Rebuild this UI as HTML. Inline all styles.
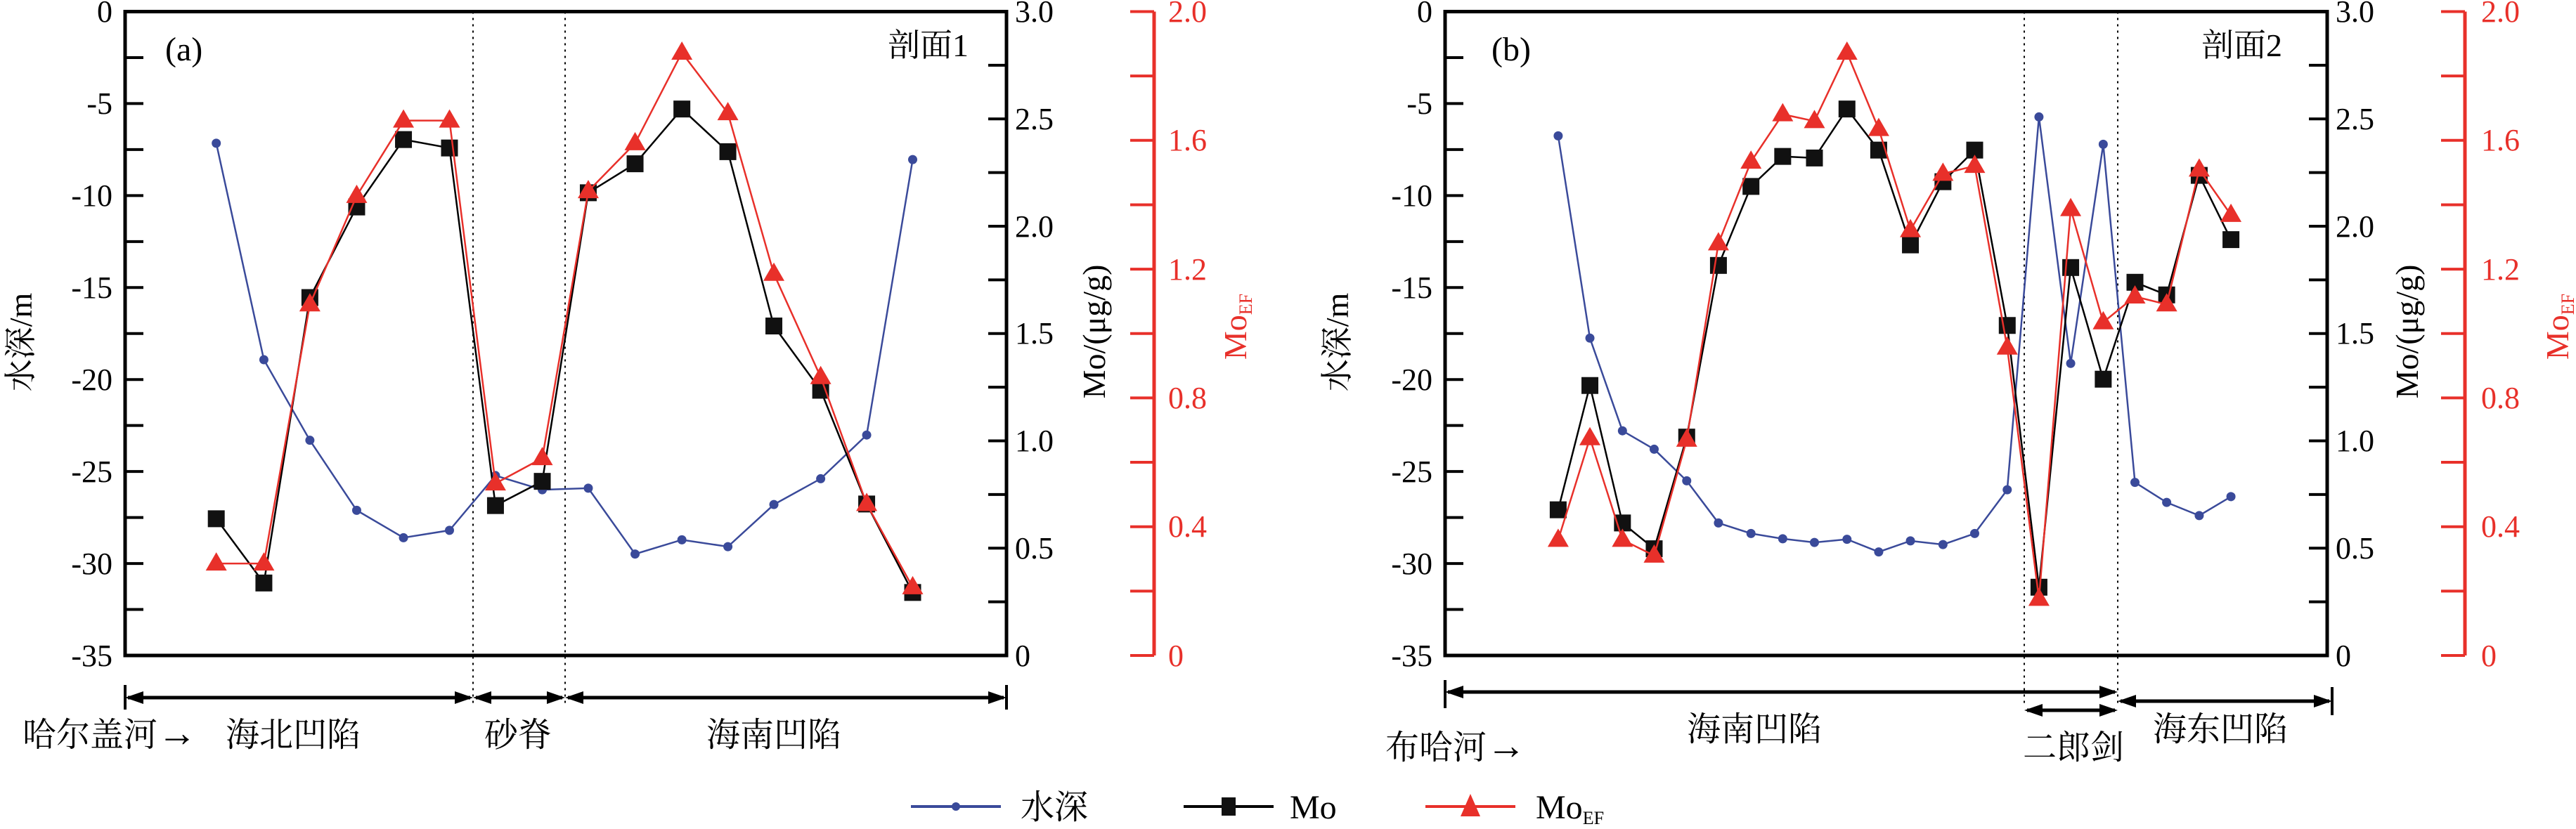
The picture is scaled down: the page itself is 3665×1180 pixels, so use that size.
<!DOCTYPE html>
<html><head><meta charset="utf-8"><style>
html,body{margin:0;padding:0;background:#fff;}
svg, svg text, svg tspan{font-family:"Liberation Serif","Times New Roman","Noto Serif CJK SC",serif !important;}
</style></head><body>
<svg id="s" width="3665" height="1175" viewBox="0 0 3665 1175" xmlns="http://www.w3.org/2000/svg" font-family="Liberation Serif, Noto Serif CJK SC, serif">
<g id="g"></g>
<!-- Panel a texts -->
<g font-size="44" fill="#000" text-anchor="end">
<text x="160" y="31">0</text><text x="160" y="162">-5</text><text x="160" y="293">-10</text><text x="160" y="424">-15</text><text x="160" y="555">-20</text><text x="160" y="686">-25</text><text x="160" y="817">-30</text><text x="160" y="948">-35</text>
</g>
<g font-size="44" fill="#000">
<text x="1444" y="31">3.0</text><text x="1444" y="184">2.5</text><text x="1444" y="337">2.0</text><text x="1444" y="489">1.5</text><text x="1444" y="642">1.0</text><text x="1444" y="795">0.5</text><text x="1444" y="948">0</text>
</g>
<g font-size="44" fill="#e8302a">
<text x="1662" y="31">2.0</text><text x="1662" y="214">1.6</text><text x="1662" y="398">1.2</text><text x="1662" y="581">0.8</text><text x="1662" y="764">0.4</text><text x="1662" y="948">0</text>
</g>
<text font-size="46" transform="translate(45,487) rotate(-90)" text-anchor="middle">水深/m</text>
<text font-size="46" transform="translate(1572,472) rotate(-90)" text-anchor="middle">Mo/(μg/g)</text>
<text font-size="46" fill="#e8302a" transform="translate(1773,465) rotate(-90)" text-anchor="middle">Mo<tspan font-size="26" dy="8">EF</tspan></text>
<text font-size="48" x="235" y="86">(a)</text>
<text font-size="46" x="1263" y="80">剖面1</text>
<g font-size="48">
<text x="32" y="1062">哈尔盖河<tspan font-size="56">→</tspan></text>
<text x="321" y="1062">海北凹陷</text>
<text x="689" y="1062">砂脊</text>
<text x="1005" y="1062">海南凹陷</text>
</g>
<!-- Panel b texts -->
<g font-size="44" fill="#000" text-anchor="end">
<text x="2038" y="31">0</text><text x="2038" y="162">-5</text><text x="2038" y="293">-10</text><text x="2038" y="424">-15</text><text x="2038" y="555">-20</text><text x="2038" y="686">-25</text><text x="2038" y="817">-30</text><text x="2038" y="948">-35</text>
</g>
<g font-size="44" fill="#000">
<text x="3323" y="31">3.0</text><text x="3323" y="184">2.5</text><text x="3323" y="337">2.0</text><text x="3323" y="489">1.5</text><text x="3323" y="642">1.0</text><text x="3323" y="795">0.5</text><text x="3323" y="948">0</text>
</g>
<g font-size="44" fill="#e8302a">
<text x="3530" y="31">2.0</text><text x="3530" y="214">1.6</text><text x="3530" y="398">1.2</text><text x="3530" y="581">0.8</text><text x="3530" y="764">0.4</text><text x="3530" y="948">0</text>
</g>
<text font-size="46" transform="translate(1918,487) rotate(-90)" text-anchor="middle">水深/m</text>
<text font-size="46" transform="translate(3440,472) rotate(-90)" text-anchor="middle">Mo/(μg/g)</text>
<text font-size="46" fill="#e8302a" transform="translate(3654,465) rotate(-90)" text-anchor="middle">Mo<tspan font-size="26" dy="8">EF</tspan></text>
<text font-size="48" x="2122" y="86">(b)</text>
<text font-size="46" x="3132" y="80">剖面2</text>
<g font-size="48">
<text x="2400" y="1054">海南凹陷</text>
<text x="1971" y="1080">布哈河<tspan font-size="56">→</tspan></text>
<text x="2878" y="1080">二郎剑</text>
<text x="3063" y="1054">海东凹陷</text>
</g>
<!-- legend -->
<line x1="1296" y1="1148" x2="1424" y2="1148" stroke="#3a4a9a" stroke-width="4"/>
<circle cx="1360" cy="1148" r="6" fill="#3a4a9a"/>
<text font-size="48" x="1452" y="1165">水深</text>
<line x1="1684" y1="1148" x2="1812" y2="1148" stroke="#000" stroke-width="4"/>
<rect x="1738" y="1135" width="20" height="26" fill="#111"/>
<text font-size="48" x="1835" y="1165">Mo</text>
<line x1="2028" y1="1148" x2="2156" y2="1148" stroke="#e8302a" stroke-width="4"/>
<polygon points="2092,1130 2078,1162 2106,1162" fill="#e8302a"/>
<text font-size="48" x="2185" y="1165">Mo<tspan font-size="26" dy="8">EF</tspan></text>
</svg>
<script>
var NS="http://www.w3.org/2000/svg",G=document.getElementById("g");
function el(t,a){var e=document.createElementNS(NS,t);for(var k in a)e.setAttribute(k,a[k]);G.appendChild(e);return e;}
var T=16.5,B=933;
function panel(L,R,RA,sx,ox,xs,blue,black,red,dots,arrows,bars){
  el("rect",{x:L,y:T,width:R-L,height:B-T,fill:"none",stroke:"#000","stroke-width":5});
  for(var i=1;i<14;i++){var y=T+(B-T)*i/14;el("line",{x1:L,y1:y,x2:L+26,y2:y,stroke:"#000","stroke-width":4});}
  for(var i=1;i<12;i++){var y=T+(B-T)*i/12;el("line",{x1:R-26,y1:y,x2:R,y2:y,stroke:"#000","stroke-width":4});}
  el("line",{x1:RA,y1:T,x2:RA,y2:B,stroke:"#e8302a","stroke-width":5});
  for(var i=0;i<=10;i++){var y=T+(B-T)*i/10;el("line",{x1:RA-34,y1:y,x2:RA,y2:y,stroke:"#e8302a","stroke-width":4});}
  dots.forEach(function(x){el("line",{x1:x,y1:T,x2:x,y2:1005,stroke:"#000","stroke-width":2,"stroke-dasharray":"3,6"});});
  bars.forEach(function(b){el("line",{x1:b[0],y1:b[1],x2:b[0],y2:b[2],stroke:"#000","stroke-width":4});});
  arrows.forEach(function(a){var x1=a[0],x2=a[1],y=a[2];
    el("line",{x1:x1+4,y1:y,x2:x2-4,y2:y,stroke:"#000","stroke-width":5});
    el("polygon",{points:x1+","+y+" "+(x1+26)+","+(y-9)+" "+(x1+26)+","+(y+9),fill:"#000"});
    el("polygon",{points:x2+","+y+" "+(x2-26)+","+(y-9)+" "+(x2-26)+","+(y+9),fill:"#000"});});
  function X(d){return ox+d/sx;} function Y(d){return d/1.334;}
  var pb=xs.map(function(d,i){return X(d)+","+Y(blue[i]);}).join(" ");
  var pk=xs.map(function(d,i){return X(d)+","+Y(black[i]);}).join(" ");
  var pr=xs.map(function(d,i){return X(d)+","+Y(red[i]);}).join(" ");
  el("polyline",{points:pb,fill:"none",stroke:"#3a4a9a","stroke-width":2.5});
  xs.forEach(function(d,i){el("circle",{cx:X(d),cy:Y(blue[i]),r:6.5,fill:"#3a4a9a"});});
  el("polyline",{points:pk,fill:"none",stroke:"#000","stroke-width":2.5});
  xs.forEach(function(d,i){el("rect",{x:X(d)-12,y:Y(black[i])-12,width:24,height:24,fill:"#111"});});
  el("polyline",{points:pr,fill:"none",stroke:"#e8302a","stroke-width":2.5});
  xs.forEach(function(d,i){var x=X(d),y=Y(red[i]);el("polygon",{points:x+","+(y-16)+" "+(x-15)+","+(y+10)+" "+(x+15)+","+(y+10),fill:"#e8302a"});});
}
panel(178,1432,1642,0.871,0,
 [268,327,384,442,500,557,614,672,729,787,845,902,959,1017,1074,1131],
 [272,683,836,969,1021,1007,903,930,927,1052,1025,1038,958,909,826,303],
 [985,1107,565,393,265,281,960,914,366,311,207,288,619,741,957,1125],
 [1070,1070,578,372,229,229,918,870,363,272,100,215,520,716,957,1115],
 [673,804],
 [[178,673,993],[673,804,993],[804,1432,993]],
 [[178,975,1010],[1432,975,1010]]);
panel(2056,3311,3507,0.864,1850,
 [317,356,396,435,475,514,554,593,632,672,711,750,790,829,869,908,947,987,1026,1065,1105,1144],
 [258,642,818,853,913,993,1013,1023,1030,1024,1048,1027,1034,1013,930,222,690,274,916,954,979,943],
 [968,732,993,1042,830,504,354,297,300,207,285,465,345,285,618,1115,508,720,536,560,333,455],
 [1025,832,1025,1055,835,462,307,217,230,100,245,437,330,315,660,1137,397,612,563,578,322,408],
 [2880,3013],
 [[2056,3013,985],[3013,3318,998],[2880,3013,1011]],
 [[2056,968,1008],[3318,978,1018]]);
</script>
</body></html>
